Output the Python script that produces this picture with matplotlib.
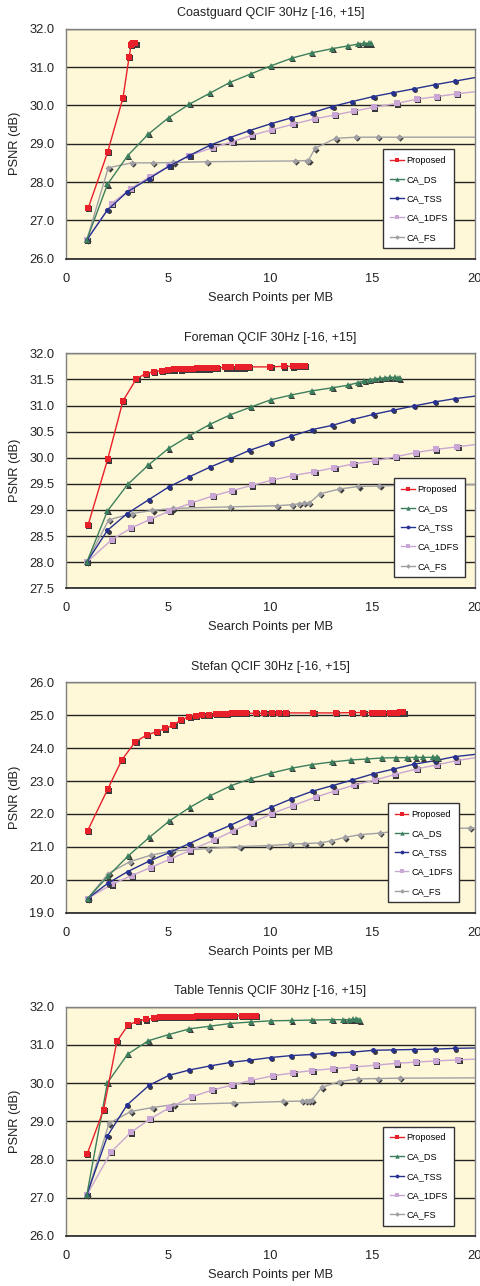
import matplotlib
matplotlib.use("Agg")
import matplotlib.pyplot as plt
import matplotlib.transforms as mtransforms
from matplotlib.ticker import FormatStrFormatter

plt.rcParams['font.family'] = ['Liberation Sans', 'DejaVu Sans']

# ---------------- data ----------------
series_names = ["Proposed", "CA_DS", "CA_TSS", "CA_1DFS", "CA_FS"]
titles = ["Coastguard QCIF 30Hz [-16, +15]", "Foreman QCIF 30Hz [-16, +15]",
          "Stefan QCIF 30Hz [-16, +15]", "Table Tennis QCIF 30Hz [-16, +15]"]
x_ticks = [0, 5, 10, 15, 20]

# Coastguard
cg_prop_x = [1.1, 2.05, 2.8, 3.1, 3.2, 3.25, 3.3, 3.35, 3.4]
cg_prop_y = [27.32, 28.78, 30.2, 31.27, 31.58, 31.6, 31.62, 31.62, 31.62]
cg_ds_x = [1.03, 2.04, 3.03, 4.04, 5.03, 6.04, 7.05, 8.03, 9.04, 10.02, 11.04, 12.02, 13.03, 13.78, 14.3, 14.6, 14.8, 14.9]
cg_ds_y = [26.49, 27.94, 28.69, 29.25, 29.68, 30.03, 30.32, 30.6, 30.82, 31.03, 31.23, 31.37, 31.48, 31.55, 31.6, 31.62, 31.62, 31.62]
cg_tss_x = [1.03, 2.04, 3.0, 4.07, 5.07, 6.04, 7.05, 8.03, 8.97, 10.02, 11.0, 12.05, 13.03, 14.0, 15.03, 16.0, 17.0, 18.05, 19.0, 21.0]
cg_tss_y = [26.49, 27.27, 27.74, 28.09, 28.42, 28.69, 28.96, 29.16, 29.34, 29.52, 29.67, 29.81, 29.97, 30.1, 30.23, 30.33, 30.43, 30.54, 30.63, 30.82]
cg_1dfs_x = [1.03, 2.25, 3.18, 4.12, 5.07, 6.04, 7.2, 8.14, 9.09, 10.07, 11.12, 12.18, 13.16, 14.09, 15.06, 16.17, 17.15, 18.13, 19.1, 21.0]
cg_1dfs_y = [26.49, 27.44, 27.83, 28.14, 28.42, 28.69, 28.9, 29.05, 29.22, 29.36, 29.51, 29.65, 29.75, 29.85, 29.95, 30.05, 30.16, 30.23, 30.3, 30.42]
cg_fs_x = [1.03, 2.08, 3.22, 4.25, 5.26, 6.89, 11.2, 11.78, 11.86, 12.18, 13.19, 14.19, 15.24, 16.29, 21.0]
cg_fs_y = [26.49, 28.37, 28.5, 28.5, 28.51, 28.53, 28.55, 28.56, 28.56, 28.88, 29.14, 29.17, 29.17, 29.17, 29.17]

# Foreman
fm_prop_x = [1.1, 2.05, 2.8, 3.45, 3.9, 4.3, 4.7, 5.0, 5.3, 5.6, 5.8, 6.0, 6.2, 6.4, 6.6, 6.8, 7.0, 7.2, 7.4,
             7.8, 8.1, 8.4, 8.7, 8.95, 10.0, 10.65, 11.1, 11.4, 11.55, 11.7]
fm_prop_y = [28.72, 29.97, 31.09, 31.51, 31.61, 31.65, 31.67, 31.68, 31.69, 31.69, 31.7, 31.7, 31.7, 31.71, 31.71,
             31.71, 31.71, 31.72, 31.72, 31.73, 31.73, 31.73, 31.73, 31.74, 31.74, 31.75, 31.75, 31.76, 31.76, 31.76]
fm_ds_x = [1.03, 2.04, 3.03, 4.04, 5.03, 6.04, 7.05, 8.03, 9.04, 10.02, 11.01, 12.02, 13.03, 13.81, 14.3, 14.6,
           14.87, 15.11, 15.36, 15.6, 15.85, 16.09, 16.25, 16.33]
fm_ds_y = [28.0, 28.98, 29.49, 29.86, 30.18, 30.42, 30.64, 30.82, 30.97, 31.11, 31.2, 31.28, 31.34, 31.39, 31.44,
           31.47, 31.49, 31.51, 31.52, 31.53, 31.54, 31.54, 31.53, 31.52]
fm_tss_x = [1.03, 2.04, 3.0, 4.07, 5.03, 6.01, 7.05, 8.03, 8.97, 10.02, 11.0, 12.05, 13.03, 14.0, 15.03, 16.0, 17.0, 18.05, 19.0, 21.0]
fm_tss_y = [28.0, 28.61, 28.93, 29.2, 29.44, 29.63, 29.82, 29.98, 30.14, 30.28, 30.41, 30.54, 30.62, 30.73, 30.83, 30.91, 30.99, 31.07, 31.13, 31.23]
fm_1dfs_x = [1.03, 2.25, 3.18, 4.12, 5.07, 6.12, 7.2, 8.14, 9.09, 10.07, 11.12, 12.15, 13.13, 14.06, 15.11, 16.14, 17.12, 18.09, 19.14, 21.0]
fm_1dfs_y = [28.0, 28.43, 28.65, 28.82, 28.98, 29.13, 29.27, 29.37, 29.47, 29.57, 29.66, 29.73, 29.81, 29.88, 29.94, 30.02, 30.1, 30.16, 30.21, 30.3]
fm_fs_x = [1.03, 2.1, 3.22, 4.23, 5.23, 8.03, 10.31, 11.04, 11.4, 11.65, 11.89, 12.43, 13.37, 14.3, 15.33, 16.4, 21.0]
fm_fs_y = [28.0, 28.81, 28.93, 28.99, 29.03, 29.06, 29.08, 29.1, 29.12, 29.13, 29.13, 29.31, 29.4, 29.45, 29.46, 29.47, 29.49]

# Stefan
st_prop_x = [1.07, 2.05, 2.74, 3.4, 3.96, 4.45, 4.84, 5.26, 5.64, 6.04, 6.37, 6.68, 7.0, 7.33, 7.62, 7.87, 8.14,
             8.4, 8.6, 8.8, 9.28, 9.71, 10.07, 10.44, 10.77, 12.1, 13.19, 13.97, 14.54, 14.95, 15.2, 15.49,
             15.85, 16.01, 16.17, 16.34, 16.5]
st_prop_y = [21.49, 22.75, 23.64, 24.19, 24.4, 24.5, 24.6, 24.7, 24.86, 24.96, 24.99, 25.0, 25.0, 25.03, 25.04,
             25.04, 25.06, 25.06, 25.06, 25.06, 25.06, 25.06, 25.07, 25.07, 25.07, 25.07, 25.07, 25.08, 25.08,
             25.08, 25.08, 25.08, 25.07, 25.06, 25.08, 25.09, 25.09]
st_ds_x = [1.07, 2.05, 3.06, 4.09, 5.07, 6.07, 7.05, 8.08, 9.04, 10.03, 11.04, 12.02, 13.03, 13.94, 14.71, 15.44,
           16.14, 16.69, 17.1, 17.44, 17.96, 18.13, 18.2]
st_ds_y = [19.43, 20.1, 20.73, 21.29, 21.79, 22.2, 22.55, 22.86, 23.07, 23.24, 23.39, 23.5, 23.58, 23.64, 23.67,
           23.7, 23.71, 23.71, 23.72, 23.72, 23.72, 23.72, 23.71]
st_tss_x = [1.07, 2.05, 3.03, 4.09, 5.07, 6.04, 7.05, 8.03, 8.97, 10.03, 11.0, 12.05, 13.03, 14.0, 15.03, 16.0, 17.0, 18.05, 19.0, 21.0]
st_tss_y = [19.43, 19.89, 20.25, 20.57, 20.83, 21.1, 21.39, 21.65, 21.92, 22.2, 22.45, 22.69, 22.86, 23.03, 23.22, 23.36, 23.51, 23.62, 23.74, 23.88]
st_1dfs_x = [1.07, 2.25, 3.22, 4.15, 5.1, 6.07, 7.26, 8.19, 9.12, 10.07, 11.09, 12.22, 13.16, 14.1, 15.11, 16.09, 17.15, 18.13, 19.1, 21.0]
st_1dfs_y = [19.43, 19.86, 20.13, 20.37, 20.63, 20.89, 21.21, 21.49, 21.74, 22.01, 22.25, 22.51, 22.7, 22.88, 23.03, 23.2, 23.37, 23.49, 23.62, 23.81]
st_fs_x = [1.07, 2.08, 3.14, 4.17, 5.18, 6.94, 8.49, 9.9, 10.96, 11.66, 12.43, 12.96, 13.65, 14.38, 15.36, 16.5, 17.7, 18.7, 19.76, 21.0]
st_fs_y = [19.43, 20.19, 20.55, 20.75, 20.87, 20.95, 21.01, 21.04, 21.08, 21.1, 21.12, 21.18, 21.29, 21.37, 21.42, 21.5, 21.54, 21.56, 21.57, 21.59]

# Table Tennis
tt_prop_x = [1.05, 1.85, 2.5, 3.05, 3.5, 3.9, 4.3, 4.6, 4.9, 5.15, 5.4, 5.6, 5.8, 6.0, 6.2, 6.4, 6.6, 6.8, 7.0,
             7.2, 7.4, 7.6, 7.8, 8.0, 8.2, 8.6, 8.8, 9.0, 9.2, 9.3]
tt_prop_y = [28.15, 29.3, 31.09, 31.52, 31.62, 31.67, 31.7, 31.73, 31.73, 31.73, 31.74, 31.74, 31.74, 31.74, 31.74,
             31.75, 31.75, 31.75, 31.75, 31.76, 31.76, 31.76, 31.76, 31.76, 31.76, 31.76, 31.76, 31.76, 31.76, 31.76]
tt_ds_x = [1.03, 2.04, 3.03, 4.04, 5.03, 6.04, 7.05, 8.03, 9.04, 10.02, 11.04, 12.05, 13.03, 13.57, 13.86, 14.06, 14.19, 14.3, 14.38]
tt_ds_y = [27.07, 30.01, 30.76, 31.11, 31.27, 31.42, 31.49, 31.56, 31.6, 31.63, 31.64, 31.65, 31.66, 31.66, 31.66, 31.67, 31.68, 31.66, 31.64]
tt_tss_x = [1.03, 2.04, 3.0, 4.07, 5.03, 6.01, 7.05, 8.03, 8.97, 10.02, 11.0, 12.05, 13.03, 14.0, 15.03, 16.0, 17.0, 18.05, 19.0, 21.0]
tt_tss_y = [27.07, 28.62, 29.43, 29.94, 30.2, 30.34, 30.45, 30.54, 30.6, 30.67, 30.72, 30.75, 30.79, 30.81, 30.86, 30.87, 30.88, 30.89, 30.91, 30.93]
tt_1dfs_x = [1.03, 2.22, 3.18, 4.12, 5.07, 6.16, 7.17, 8.14, 9.04, 10.11, 11.12, 12.05, 13.08, 14.06, 15.15, 16.17, 17.12, 18.09, 19.19, 21.0]
tt_1dfs_y = [27.07, 28.2, 28.71, 29.06, 29.36, 29.64, 29.82, 29.95, 30.07, 30.19, 30.27, 30.33, 30.38, 30.42, 30.47, 30.52, 30.55, 30.58, 30.61, 30.65]
tt_fs_x = [1.03, 2.12, 3.19, 4.23, 5.26, 8.19, 10.64, 11.53, 11.74, 11.9, 12.02, 12.51, 13.37, 14.27, 15.24, 16.34, 21.0]
tt_fs_y = [27.07, 28.95, 29.26, 29.36, 29.44, 29.48, 29.52, 29.53, 29.54, 29.54, 29.55, 29.89, 30.04, 30.11, 30.12, 30.13, 30.14]

y_ranges = [(26.0, 32.0, 1.0), (27.5, 32.0, 0.5), (19.0, 26.0, 1.0), (26.0, 32.0, 1.0)]

panels = [
    [(cg_prop_x, cg_prop_y), (cg_ds_x, cg_ds_y), (cg_tss_x, cg_tss_y), (cg_1dfs_x, cg_1dfs_y), (cg_fs_x, cg_fs_y)],
    [(fm_prop_x, fm_prop_y), (fm_ds_x, fm_ds_y), (fm_tss_x, fm_tss_y), (fm_1dfs_x, fm_1dfs_y), (fm_fs_x, fm_fs_y)],
    [(st_prop_x, st_prop_y), (st_ds_x, st_ds_y), (st_tss_x, st_tss_y), (st_1dfs_x, st_1dfs_y), (st_fs_x, st_fs_y)],
    [(tt_prop_x, tt_prop_y), (tt_ds_x, tt_ds_y), (tt_tss_x, tt_tss_y), (tt_1dfs_x, tt_1dfs_y), (tt_fs_x, tt_fs_y)],
]

# ---------------- style ----------------
colors = ["#E8202A", "#3C7F5C", "#27318F", "#C9A6D3", "#A0A0A4"]
markers = ["s", "^", "o", "s", "D"]
msizes = [4.0, 4.2, 3.6, 4.0, 3.2]
bg = "#FFF8D8"

# axes positions in pixels
W, H = 481, 1286
ax_left, ax_right = 65.7, 475.0
ax_tb = [(28.7, 258.7), (353.3, 588.3), (682.3, 912.7), (1006.7, 1236.0)]
legend_anchor = [(0.949, 0.045), (0.976, 0.047), (0.961, 0.045), (0.949, 0.044)]

fig = plt.figure(figsize=(W / 100, H / 100), dpi=100)

for i in range(4):
    top, bot = ax_tb[i]
    ax = fig.add_axes([ax_left / W, 1 - bot / H, (ax_right - ax_left) / W, (bot - top) / H])
    ax.set_facecolor(bg)
    ymin, ymax, ystep = y_ranges[i]
    ax.set_xlim(0, 20)
    ax.set_ylim(ymin, ymax)
    ax.set_xticks(x_ticks)
    yt = []
    v = ymin
    while v <= ymax + 1e-9:
        yt.append(round(v, 2))
        v += ystep
    ax.set_yticks(yt)
    ax.yaxis.set_major_formatter(FormatStrFormatter('%.1f'))
    ax.yaxis.grid(True, color="#222222", linewidth=1.0)
    ax.set_axisbelow(True)
    ax.tick_params(axis='both', length=0, labelsize=9.3, colors="#222222")
    ax.tick_params(axis='x', pad=10)
    ax.tick_params(axis='y', pad=8)
    for s in ax.spines.values():
        s.set_color("#808080")
        s.set_linewidth(1.0)
    ax.spines['bottom'].set_color("#222222")
    ax.spines['bottom'].set_linewidth(1.2)

    shadow_tr = mtransforms.offset_copy(ax.transData, fig=fig, x=0.9, y=-0.9, units='points')
    handles = []
    for k in range(4, -1, -1):
        xs, ys = panels[i][k]
        ax.plot(xs, ys, linestyle='none', marker=markers[k], markersize=msizes[k],
                color="#3a3a3a", markeredgewidth=0, transform=shadow_tr, zorder=3 + (4 - k) * 0.1)
        ln, = ax.plot(xs, ys, color=colors[k], linewidth=1.0, marker=markers[k], markersize=msizes[k],
                      markeredgewidth=0, label=series_names[k], zorder=3.05 + (4 - k) * 0.1)
        handles.append(ln)
    handles = handles[::-1]

    ax.set_title(titles[i], fontsize=9, color="#222222", pad=9)
    ax.set_xlabel("Search Points per MB", fontsize=9.3, color="#222222", labelpad=5)
    ax.set_ylabel("PSNR (dB)", fontsize=9.3, color="#222222", labelpad=6)

    leg = ax.legend(handles=handles, loc='lower right', bbox_to_anchor=legend_anchor[i],
                    fontsize=6.6, frameon=True, fancybox=False, edgecolor="#333333",
                    framealpha=1.0, facecolor="white", labelspacing=1.12, handlelength=1.5,
                    handletextpad=0.3, borderpad=0.7, borderaxespad=0.0, markerscale=0.75)
    leg.get_frame().set_linewidth(1.0)
    leg.set_zorder(10)

fig.savefig("out.png", dpi=100)
